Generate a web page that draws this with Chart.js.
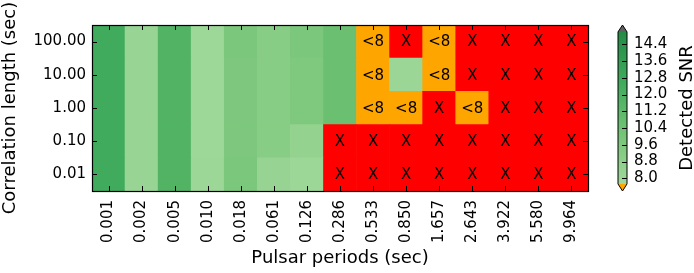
<!DOCTYPE html>
<html><head><meta charset="utf-8">
<script src="https://cdn.jsdelivr.net/npm/chart.js@4.4.0/dist/chart.umd.min.js"></script>
<style>html,body{margin:0;padding:0;background:#fff;}canvas{display:block;}</style>
</head><body>
<canvas id="c" width="694" height="273"></canvas>
<script>
// ---- data ----
const periods = ['0.001','0.002','0.005','0.010','0.018','0.061','0.126','0.286','0.533','0.850','1.657','2.643','3.922','5.580','9.964'];
const corrLengths = ['0.01','0.10','1.00','10.00','100.00']; // bottom -> top
const snr_0_01  = [12.57, 8.21, 11.76, 7.95, 9.80, 8.25, 7.95, 'X','X','X','X','X','X','X','X'];
const snr_0_10  = [12.57, 8.21, 11.76, 7.90, 9.65, 9.15, 8.50, 'X','X','X','X','X','X','X','X'];
const snr_1_00  = [12.57, 8.21, 11.76, 7.90, 9.65, 9.15, 9.60, 10.63,'<8','<8','X','<8','X','X','X'];
const snr_10_00 = [12.57, 8.21, 11.76, 7.90, 9.65, 9.15, 9.60, 10.63,'<8',8.05,'<8','X','X','X','X'];
const snr_100_00= [12.57, 8.21, 11.76, 7.90, 9.80, 9.15, 9.75, 10.63,'<8','X','<8','X','X','X','X'];
const snrRows = [snr_0_01, snr_0_10, snr_1_00, snr_10_00, snr_100_00];
const cbTicks = [8.0, 8.8, 9.6, 10.4, 11.2, 12.0, 12.8, 13.6, 14.4];
const cbMin = 7.73, cbMax = 14.99;

// ---- colours ----
const greens = [[0.375,[161,217,155]],[0.5,[116,196,118]],[0.625,[65,171,93]],[0.75,[35,139,69]]];
function cmap(v){
  let t = 0.375 + 0.375*(v-cbMin)/(cbMax-cbMin);
  t = Math.max(0.375, Math.min(0.75, t));
  for (let i=0;i<greens.length-1;i++){
    const [t0,c0]=greens[i],[t1,c1]=greens[i+1];
    if (t<=t1){
      const f=(t-t0)/(t1-t0);
      return 'rgb('+c0.map((c,k)=>Math.round(c+(c1[k]-c)*f)).join(',')+')';
    }
  }
  return 'rgb(35,139,69)';
}
function cellColor(v){
  if (v==='X') return '#ff0000';
  if (v==='<8') return '#ffa500';
  return cmap(v);
}

const datasets = snrRows.map((row,r)=>({
  data: row.map(()=>[r, r+1]),
  backgroundColor: row.map(cellColor),
  borderWidth: 0,
  barPercentage: 1,
  categoryPercentage: 1,
  grouped: false
}));

const FONT = 'DejaVu Sans';

const heatPlugin = {
  id: 'heat',
  afterDatasetsDraw(chart){
    const ctx = chart.ctx, xs = chart.scales.x, ys = chart.scales.y, ca = chart.chartArea;
    ctx.save();
    ctx.fillStyle = '#000';
    ctx.font = '15px "' + FONT + '"';
    ctx.textAlign = 'center';
    ctx.textBaseline = 'middle';
    snrRows.forEach((row,r)=>{
      row.forEach((v,c)=>{
        if (typeof v === 'string'){
          ctx.fillText(v, xs.getPixelForValue(c), ys.getPixelForValue(r+0.5)+1);
        }
      });
    });
    ctx.strokeStyle = '#000';
    ctx.lineWidth = 1;
    ctx.beginPath();
    periods.forEach((p,c)=>{
      const x = Math.round(xs.getPixelForValue(c))+0.5;
      ctx.moveTo(x, ca.bottom); ctx.lineTo(x, ca.bottom-5);
      ctx.moveTo(x, ca.top); ctx.lineTo(x, ca.top+5);
    });
    corrLengths.forEach((l,r)=>{
      const y = Math.round(ys.getPixelForValue(r+0.5))+0.5;
      ctx.moveTo(ca.left, y); ctx.lineTo(ca.left+5, y);
      ctx.moveTo(ca.right, y); ctx.lineTo(ca.right-5, y);
    });
    ctx.stroke();
    ctx.lineWidth = 1.2;
    ctx.strokeRect(ca.left+0.5, ca.top+0.5, ca.right-ca.left, ca.bottom-ca.top);
    ctx.restore();
  },
  afterDraw(chart){
    const ctx = chart.ctx, cb = chart.scales.cb, ca = chart.chartArea;
    const x0 = cb.left + 30, x1 = x0 + 9, xm = (x0+x1)/2;
    const yTop = cb.getPixelForValue(cbMax), yBot = cb.getPixelForValue(cbMin);
    const yTip = cb.getPixelForValue(cb.max), yBtip = cb.getPixelForValue(cb.min);
    ctx.save();
    for (let y = Math.floor(yTop); y < yBot; y++){
      const v = cb.getValueForPixel(y+0.5);
      ctx.fillStyle = cmap(v);
      ctx.fillRect(x0, y, x1-x0, 1);
    }
    ctx.fillStyle = '#606060';
    ctx.beginPath(); ctx.moveTo(x0,yTop); ctx.lineTo(xm,yTip); ctx.lineTo(x1,yTop); ctx.closePath(); ctx.fill();
    ctx.fillStyle = '#ffa500';
    ctx.beginPath(); ctx.moveTo(x0,yBot); ctx.lineTo(xm,yBtip); ctx.lineTo(x1,yBot); ctx.closePath(); ctx.fill();
    ctx.strokeStyle = '#000'; ctx.lineWidth = 1;
    ctx.beginPath();
    ctx.moveTo(x0,yTop); ctx.lineTo(xm,yTip); ctx.lineTo(x1,yTop); ctx.lineTo(x1,yBot);
    ctx.lineTo(xm,yBtip); ctx.lineTo(x0,yBot); ctx.closePath(); ctx.stroke();
    ctx.beginPath();
    cbTicks.forEach(t=>{
      const y = Math.round(cb.getPixelForValue(t))+0.5;
      ctx.moveTo(x1, y); ctx.lineTo(x1-5, y);
    });
    ctx.stroke();
    ctx.fillStyle = '#000';
    ctx.font = '18px "' + FONT + '"';
    ctx.textAlign = 'center';
    ctx.textBaseline = 'alphabetic';
    ctx.translate(692, (ca.top+ca.bottom)/2);
    ctx.rotate(-Math.PI/2);
    ctx.fillText('Detected SNR', 0, 0);
    ctx.restore();
  }
};

new Chart(document.getElementById('c'), {
  type: 'bar',
  data: { labels: periods, datasets },
  options: {
    responsive: false,
    animation: false,
    devicePixelRatio: 1,
    layout: { padding: { top: 25, left: 0, right: 0, bottom: 0 } },
    plugins: { legend: { display: false }, tooltip: { enabled: false } },
    scales: {
      x: {
        type: 'category',
        offset: true,
        grid: { display: false, drawTicks: false },
        border: { display: false },
        ticks: { color: '#000', font: { family: FONT, size: 15 }, minRotation: 90, maxRotation: 90, padding: 9, autoSkip: false },
        title: { display: true, text: 'Pulsar periods (sec)', color: '#000', font: { family: FONT, size: 18 }, padding: { top: 0, bottom: 3.5 } },
        afterFit(s){ s.height = 82; s.paddingLeft = 0; s.paddingRight = 0; }
      },
      y: {
        type: 'linear',
        min: 0, max: 5,
        grid: { display: false, drawTicks: false },
        border: { display: false },
        afterBuildTicks(s){ s.ticks = corrLengths.map((l,i)=>({value: i+0.5})); },
        ticks: { color: '#000', font: { family: FONT, size: 15 }, padding: 6, autoSkip: false,
          callback: (v)=> corrLengths[Math.round(v-0.5)] },
        title: { display: true, text: 'Correlation length (sec)', color: '#000', font: { family: FONT, size: 18 }, padding: { top: 0, bottom: 0 } },
        afterFit(s){ s.width = 92; s.paddingTop = 0; s.paddingBottom = 0; }
      },
      cb: {
        type: 'linear',
        position: 'right',
        min: 7.394, max: 15.32,
        grid: { display: false, drawTicks: false, drawOnChartArea: false },
        border: { display: false },
        afterBuildTicks(s){ s.ticks = cbTicks.map(v=>({value: v})); },
        ticks: { color: '#000', font: { family: FONT, size: 15 }, padding: 46, autoSkip: false,
          callback: (v)=> Number(v).toFixed(1) },
        afterFit(s){ s.width = 106; s.paddingTop = 0; s.paddingBottom = 0; }
      }
    }
  },
  plugins: [heatPlugin]
});
</script>
</body></html>
